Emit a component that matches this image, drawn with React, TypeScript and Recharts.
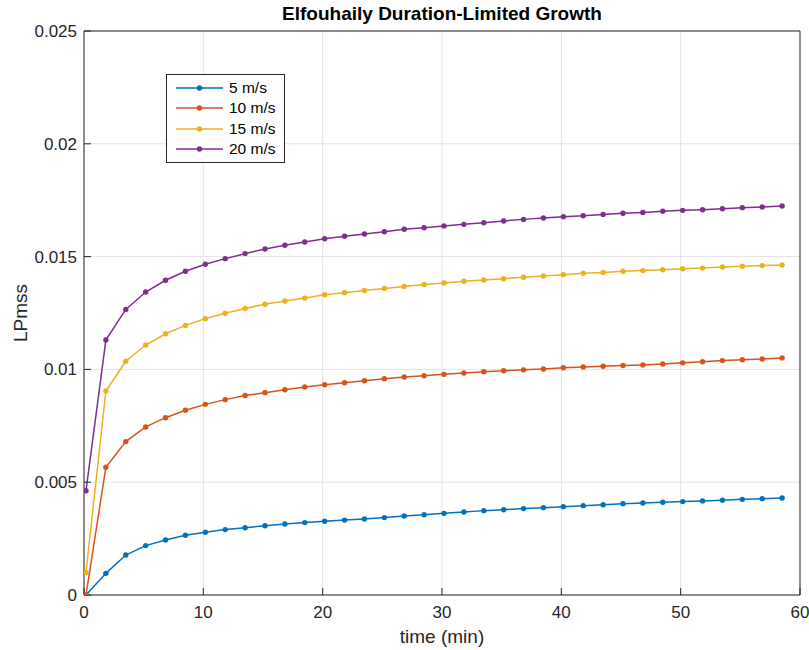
import { LineChart, Line, XAxis, YAxis, CartesianGrid, Legend } from 'recharts';

// sample times (min)
const times = [
  0.167, 1.833, 3.5, 5.167, 6.833, 8.5, 10.167, 11.833, 13.5, 15.167, 16.833, 18.5,
  20.167, 21.833, 23.5, 25.167, 26.833, 28.5, 30.167, 31.833, 33.5, 35.167, 36.833, 38.5,
  40.167, 41.833, 43.5, 45.167, 46.833, 48.5, 50.167, 51.833, 53.5, 55.167, 56.833, 58.5,
];

const wind5 = [
  0, 0.00096, 0.00177, 0.00219, 0.00244, 0.00265, 0.00278, 0.0029, 0.00298, 0.00307, 0.00315, 0.00321,
  0.00327, 0.00332, 0.00337, 0.00343, 0.0035, 0.00356, 0.00362, 0.00368, 0.00374, 0.00378, 0.00383, 0.00387,
  0.00391, 0.00396, 0.004, 0.00405, 0.00408, 0.00411, 0.00414, 0.00417, 0.0042, 0.00424, 0.00427, 0.0043,
];
const wind10 = [
  0, 0.00566, 0.0068, 0.00745, 0.00786, 0.00819, 0.00845, 0.00866, 0.00884, 0.00897, 0.0091, 0.00922,
  0.00932, 0.00941, 0.0095, 0.00959, 0.00966, 0.00972, 0.00978, 0.00984, 0.0099, 0.00994, 0.00998, 0.01002,
  0.01007, 0.01011, 0.01014, 0.01017, 0.0102, 0.01024, 0.01029, 0.01034, 0.01039, 0.01043, 0.01046, 0.01051,
];
const wind15 = [
  0.001, 0.00904, 0.01036, 0.01108, 0.01158, 0.01195, 0.01225, 0.01249, 0.0127, 0.01289, 0.01303, 0.01316,
  0.01331, 0.0134, 0.0135, 0.01359, 0.01368, 0.01376, 0.01383, 0.01391, 0.01396, 0.01402, 0.01409, 0.01414,
  0.0142, 0.01426, 0.0143, 0.01435, 0.01438, 0.01442, 0.01446, 0.01449, 0.01454, 0.01457, 0.0146, 0.01463,
];
const wind20 = [
  0.00462, 0.0113, 0.01266, 0.01343, 0.01395, 0.01435, 0.01466, 0.01491, 0.01513, 0.01534, 0.0155, 0.01565,
  0.01579, 0.0159, 0.016, 0.0161, 0.01621, 0.01628, 0.01636, 0.01643, 0.0165, 0.01658, 0.01665, 0.01671,
  0.01677, 0.01681, 0.01687, 0.01692, 0.01696, 0.01701, 0.01705, 0.01708, 0.01712, 0.01717, 0.0172, 0.01724,
];

const xTicks = [0, 10, 20, 30, 40, 50, 60];
const yTicks = [0, 0.005, 0.01, 0.015, 0.02, 0.025];

const seriesKeys = ['w5', 'w10', 'w15', 'w20'];
const seriesNames = ['5 m/s', '10 m/s', '15 m/s', '20 m/s'];
const seriesColors = ['#0072BD', '#D95319', '#EDB120', '#7E2F8E'];

const data = times.map((t, i) => ({
  t,
  w5: wind5[i],
  w10: wind10[i],
  w15: wind15[i],
  w20: wind20[i],
}));

const FONT = '"Liberation Sans", Arial, Helvetica, sans-serif';
const AXIS = '#262626';

const TitleLabel = (props: any) => {
  const { viewBox } = props;
  return (
    <text
      x={viewBox.x + viewBox.width / 2}
      y={viewBox.y + 20}
      textAnchor="middle"
      fontFamily={FONT}
      fontWeight="bold"
      fontSize={19}
      fill="#000"
    >
      Elfouhaily Duration-Limited Growth
    </text>
  );
};

const YLabel = (props: any) => {
  const { viewBox } = props;
  const x = viewBox.x + 27;
  const y = viewBox.y + viewBox.height / 2;
  return (
    <text x={x} y={y} transform={`rotate(-90 ${x} ${y})`} textAnchor="middle" fontFamily={FONT} fontSize={19} fill={AXIS}>
      LPmss
    </text>
  );
};

const LegendBox = ({ payload }: any) => {
  const items = [...(payload || [])].sort(
    (a: any, b: any) => seriesKeys.indexOf(a.dataKey) - seriesKeys.indexOf(b.dataKey)
  );
  return (
    <div
      style={{
        border: `1px solid ${AXIS}`,
        background: '#fff',
        padding: '3px 8px 3px 9px',
        fontFamily: FONT,
        fontSize: 15.5,
        color: '#000',
        lineHeight: '20.3px',
      }}
    >
      {items.map((p: any) => (
        <div key={p.value} style={{ display: 'flex', alignItems: 'center', whiteSpace: 'nowrap' }}>
          <svg width={47} height={10} style={{ marginRight: 6 }}>
            <line x1={0} y1={5} x2={47} y2={5} stroke={p.color} strokeWidth={1.5} />
            <circle cx={23.5} cy={5} r={2.7} fill={p.color} />
          </svg>
          {p.value}
        </div>
      ))}
    </div>
  );
};

export default function App() {
  return (
    <div style={{ position: 'absolute', left: 0, top: 0, background: '#fff' }}>
      <LineChart width={809} height={650} data={data} margin={{ top: 0, right: 0, bottom: 0, left: 0 }}>
        <CartesianGrid stroke="#e3e3e3" />
        <XAxis
          dataKey="t"
          type="number"
          domain={[0, 60]}
          ticks={xTicks}
          allowDataOverflow
          height={55}
          stroke={AXIS}
          tickSize={-7}
          tickMargin={18}
          tick={{ fill: AXIS, fontSize: 17, fontFamily: FONT }}
          label={{ value: 'time (min)', position: 'insideBottom', offset: 7, fill: AXIS, fontSize: 19, fontFamily: FONT }}
        />
        <XAxis
          xAxisId="top"
          orientation="top"
          dataKey="t"
          type="number"
          domain={[0, 60]}
          ticks={xTicks}
          allowDataOverflow
          height={31}
          stroke={AXIS}
          tickSize={-7}
          tick={false}
          label={{ content: <TitleLabel /> }}
        />
        <YAxis
          type="number"
          domain={[0, 0.025]}
          ticks={yTicks}
          allowDataOverflow
          width={84}
          stroke={AXIS}
          tickSize={-7}
          tickMargin={14}
          tick={{ fill: AXIS, fontSize: 17, fontFamily: FONT }}
          label={{ content: <YLabel /> }}
        />
        <YAxis
          yAxisId="right"
          orientation="right"
          type="number"
          domain={[0, 0.025]}
          ticks={yTicks}
          allowDataOverflow
          width={9}
          stroke={AXIS}
          tickSize={-7}
          tick={false}
        />
        <Legend
          layout="horizontal"
          align="center"
          verticalAlign="middle"
          content={<LegendBox />}
          wrapperStyle={{ left: 166, top: 74, width: 'auto', height: 'auto' }}
        />
        {seriesKeys.map((k, i) => (
          <Line
            key={k}
            dataKey={k}
            name={seriesNames[i]}
            type="linear"
            stroke={seriesColors[i]}
            strokeWidth={1.5}
            dot={{ r: 2.7, fill: seriesColors[i], stroke: 'none' }}
            activeDot={false}
            isAnimationActive={false}
          />
        ))}
      </LineChart>
    </div>
  );
}
